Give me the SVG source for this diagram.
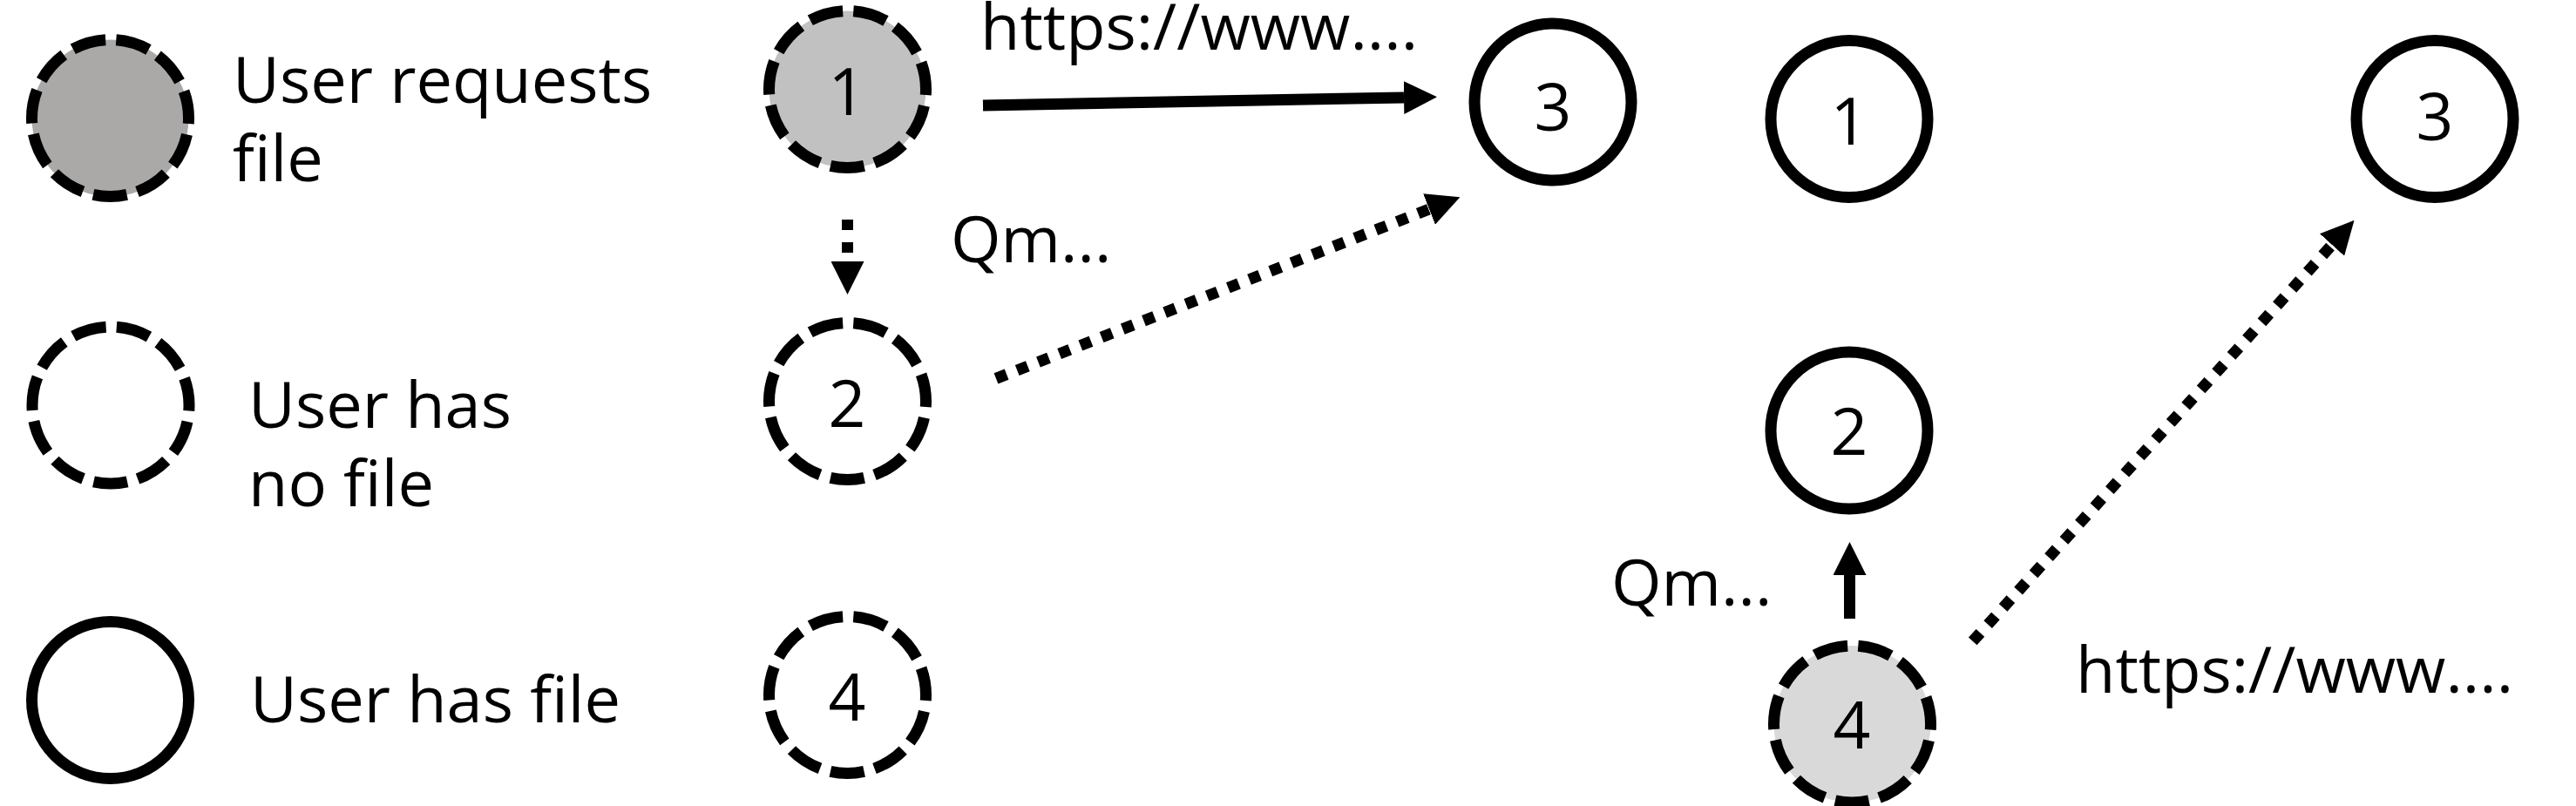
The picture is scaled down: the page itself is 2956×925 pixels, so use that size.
<svg xmlns="http://www.w3.org/2000/svg" width="2956" height="925" viewBox="0 0 2956 925">
<style>
  text { font-family: "Open Sans", "Noto Sans", "Liberation Sans", sans-serif; fill: #000; }
  .lbl { font-size: 74px; }
  .num { font-size: 75px; text-anchor: middle; }
  .node { stroke: #000; stroke-width: 13; }
  .dashed { stroke-dasharray: 39 12.41; stroke-dashoffset: 32.33; }
  .solid { fill: #fff; }
  .empty { fill: #fff; }
  .req { fill: #aba8a8; }
  .req1 { fill: #c1c1c1; }
  .req4 { fill: #d9d9d9; }
  .conn { fill: none; stroke: #000; stroke-width: 13; stroke-linecap: butt; }
  .dots { stroke-dasharray: 13 13; }
  .vdots { stroke-dasharray: 12 14; }
</style>
<defs>
  <marker id="arrow" markerUnits="userSpaceOnUse" viewBox="0 0 38 38" refX="0" refY="19" markerWidth="38" markerHeight="38" orient="auto">
    <path d="M0,0 L38,19 L0,38 z" fill="#000"/>
  </marker>
</defs>
<rect width="2956" height="925" fill="#fff"/>

<g id="legend-requests">
  <circle class="node dashed req" cx="126.5" cy="135.5" r="90"/>
  <text class="lbl" x="267" y="118">User requests</text>
  <text class="lbl" x="267" y="208">file</text>
</g>
<g id="legend-nofile">
  <circle class="node dashed empty" cx="127" cy="465" r="90"/>
  <text class="lbl" x="285" y="491">User has</text>
  <text class="lbl" x="285" y="581">no file</text>
</g>
<g id="legend-hasfile">
  <circle class="node solid" cx="126.5" cy="803.5" r="90"/>
  <text class="lbl" x="287" y="829">User has file</text>
</g>

<g id="node-1">
  <circle class="node dashed req1" cx="972.5" cy="102.5" r="90"/>
  <text class="num" x="972" y="132">1</text>
</g>
<g id="node-2">
  <circle class="node dashed empty" cx="972.5" cy="460.5" r="90"/>
  <text class="num" x="972" y="490">2</text>
</g>
<g id="node-3">
  <circle class="node solid" cx="1782" cy="117" r="90"/>
  <text class="num" x="1782" y="150">3</text>
</g>
<g id="node-4">
  <circle class="node dashed empty" cx="972.5" cy="797.5" r="90"/>
  <text class="num" x="972" y="827">4</text>
</g>

<g id="node-r1">
  <circle class="node solid" cx="2122" cy="136.5" r="90"/>
  <text class="num" x="2122" y="166">1</text>
</g>
<g id="node-r2">
  <circle class="node solid" cx="2122" cy="494" r="90"/>
  <text class="num" x="2122" y="522">2</text>
</g>
<g id="node-r3">
  <circle class="node solid" cx="2794" cy="136.5" r="90"/>
  <text class="num" x="2794" y="161">3</text>
</g>
<g id="node-r4">
  <circle class="node dashed req4" cx="2125.5" cy="831" r="90"/>
  <text class="num" x="2125" y="859">4</text>
</g>

<g id="connectors">
  <line class="conn" x1="1128" y1="121" x2="1611" y2="112" marker-end="url(#arrow)"/>
  <line class="conn vdots" x1="972.5" y1="252" x2="972.5" y2="300" marker-end="url(#arrow)"/>
  <line class="conn dots" x1="1143" y1="434.4" x2="1640" y2="240" marker-end="url(#arrow)"/>
  <line class="conn" x1="2122.5" y1="710" x2="2122.5" y2="660" marker-end="url(#arrow)"/>
  <line class="conn dots" x1="2263.7" y1="735.9" x2="2676" y2="281" marker-end="url(#arrow)"/>
</g>

<g id="labels">
  <text class="lbl" x="1125" y="57">https://www....</text>
  <text class="lbl" x="1091" y="301">Qm...</text>
  <text class="lbl" x="1849" y="695">Qm...</text>
  <text class="lbl" x="2382" y="795">https://www....</text>
</g>
</svg>
